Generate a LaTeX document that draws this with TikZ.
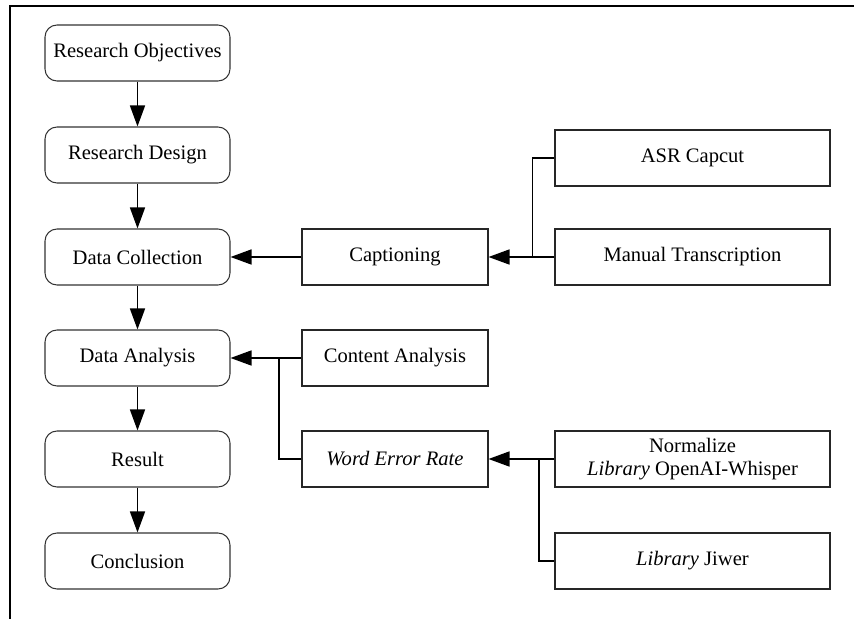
\documentclass[tikz,border=0pt]{standalone}
\usepackage{fontspec}
\setmainfont{Liberation Serif}
\usetikzlibrary{arrows.meta}

\begin{document}
\begin{tikzpicture}[>={Triangle[length=0.42cm, width=0.3cm]},
    stagebox/.style={draw=black!80, line width=0.6pt, rounded corners=0.24cm,
        minimum width=3.7cm, minimum height=1.12cm, align=center},
    taskbox/.style={draw=black!85, line width=0.6pt,
        minimum width=3.72cm, minimum height=1.12cm, align=center},
    toolbox/.style={draw=black!85, line width=0.6pt,
        minimum width=5.5cm, minimum height=1.12cm, align=center, inner sep=1pt},
    link/.style={line width=0.9pt},
    font=\fontsize{11.7}{13.5}\selectfont]
    \useasboundingbox (0,0) rectangle (17.08,12.38);

    % outer frame (only top and left edges show)
    \draw[line width=0.055cm] (0.2,0) -- (0.2,12.26) -- (17.08,12.26);

    % main stages
    \node[stagebox] (obj) at (2.75,11.32) {Research Objectives};
    \node[stagebox] (des) at (2.75,9.28) {Research Design};
    \node[stagebox] (col) at (2.75,7.24) {Data Collection};
    \node[stagebox] (ana) at (2.75,5.22) {Data Analysis};
    \node[stagebox] (res) at (2.75,3.20) {Result};
    \node[stagebox] (con) at (2.75,1.16) {Conclusion};

    % tasks
    \node[taskbox] (cap) at (7.9,7.24) {Captioning};
    \node[taskbox] (cnt) at (7.9,5.22) {Content Analysis};
    \node[taskbox] (wer) at (7.9,3.20) {\textit{Word Error Rate}};

    % tools
    \node[toolbox] (asr) at (13.85,9.22) {ASR Capcut};
    \node[toolbox] (man) at (13.85,7.24) {Manual Transcription};
    \node[toolbox] (nrm) at (13.85,3.20) {Normalize\\\textit{Library} OpenAI-Whisper};
    \node[toolbox] (jiw) at (13.85,1.16) {\textit{Library} Jiwer};

    \coordinate (capjoin) at (10.65,7.24);
    \coordinate (anajoin) at (5.58,5.22);
    \coordinate (werjoin) at (10.78,3.20);

    \draw[link,->] (obj) -- (des);
    \draw[link,->] (des) -- (col);
    \draw[link,->] (col) -- (ana);
    \draw[link,->] (ana) -- (res);
    \draw[link,->] (res) -- (con);

    \draw[link,->] (cap) -- (col);
    \draw[link,->] (man) -- (cap);
    \draw[link] (asr.west) -| (capjoin);

    \draw[link,->] (cnt) -- (ana);
    \draw[link] (wer.west) -| (anajoin);

    \draw[link,->] (nrm) -- (wer);
    \draw[link] (jiw.west) -| (werjoin);
\end{tikzpicture}
\end{document}
